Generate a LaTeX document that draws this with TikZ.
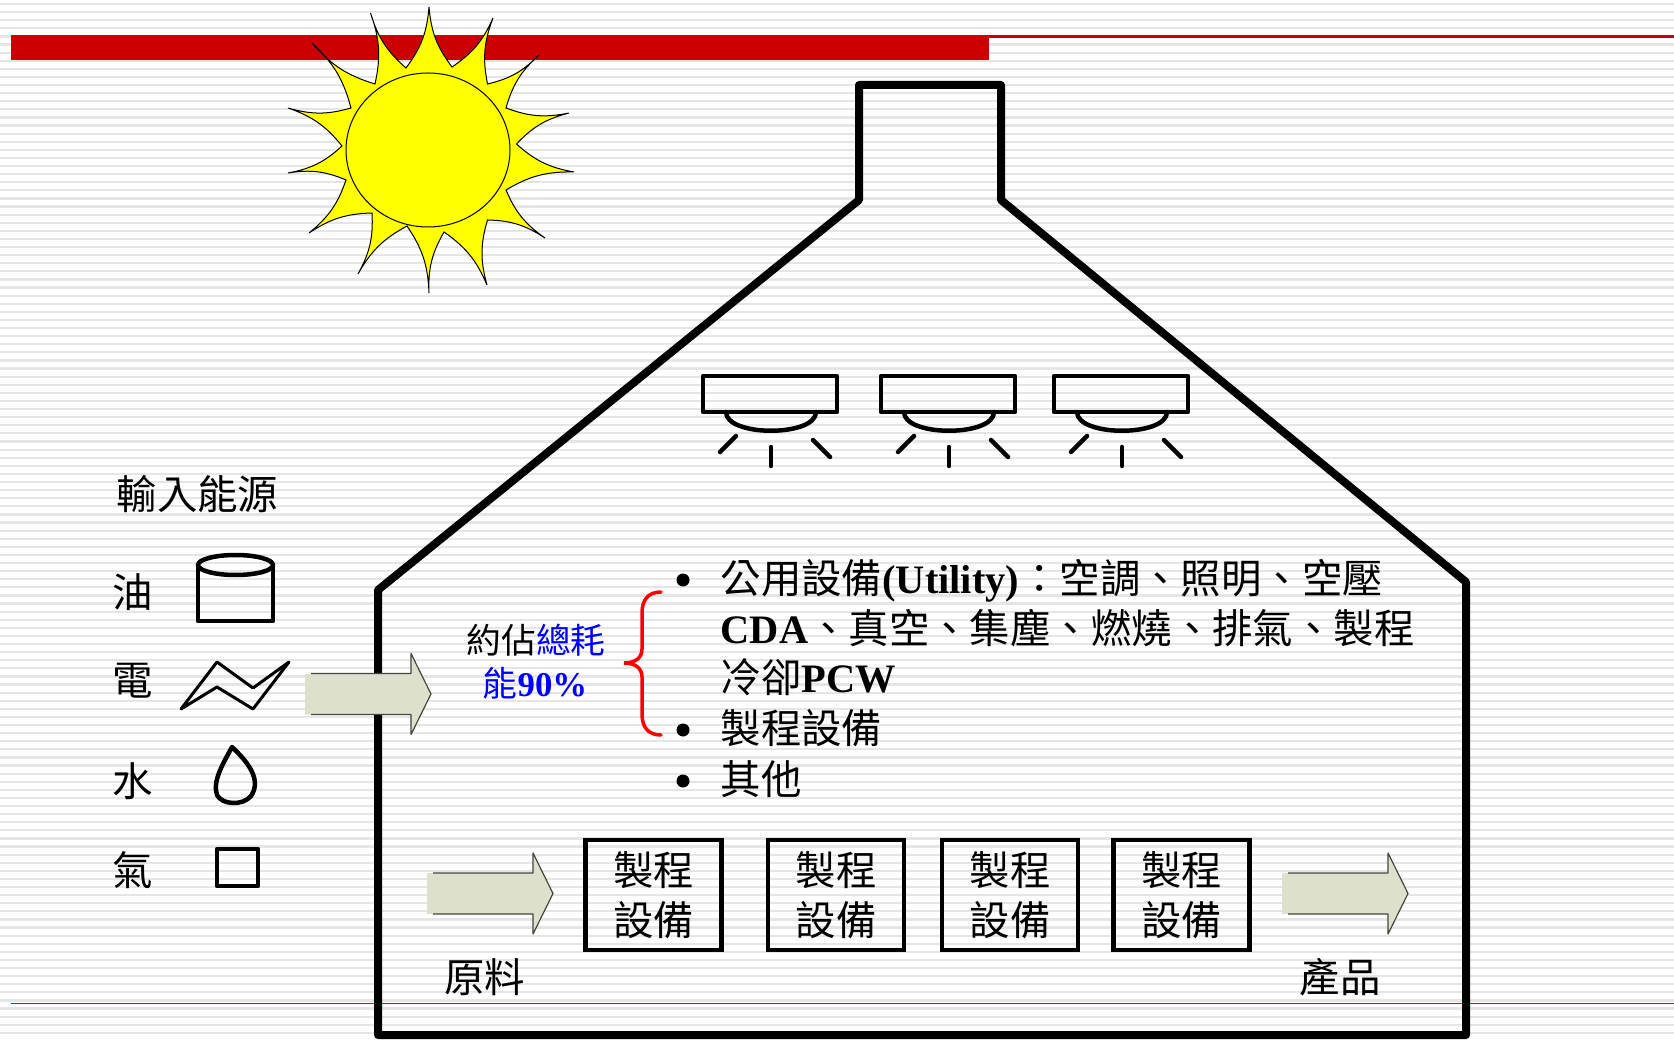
\documentclass[tikz,border=0pt]{standalone}
\usepackage{fontspec}
\setmainfont{Noto Sans CJK TC}
\newfontfamily\latinbf{Liberation Serif}
\usetikzlibrary{positioning}

\definecolor{barred}{RGB}{204,0,0}
\definecolor{linered}{RGB}{222,0,0}
\definecolor{stripegray}{RGB}{229,229,229}
\definecolor{arrowfill}{RGB}{221,224,204}
\definecolor{arrowedge}{RGB}{70,70,60}
\definecolor{sunyellow}{RGB}{255,255,0}
\definecolor{noteblue}{RGB}{0,0,255}
\definecolor{bracered}{RGB}{255,0,0}

\begin{document}
\begin{tikzpicture}[
    x=0.1mm, y=-0.1mm,
    every node/.style={font=\fontsize{11.5}{14}\selectfont, inner sep=0pt},
    wall/.style={line width=0.8mm, line join=round},
    icon/.style={line width=0.45mm, line join=round},
    lampline/.style={line width=0.45mm, line cap=round, line join=round},
    sun/.style={fill=sunyellow, draw=black, line width=0.1mm},
    stepbox/.style={draw, line width=0.45mm, minimum width=13.6mm, minimum height=11mm,
        align=center, font=\fontsize{11.5}{14.2}\selectfont},
    listline/.style={anchor=west, text height=0.88em, text depth=0.12em},
    note/.style={font=\fontsize{9.9}{12}\selectfont},
    fatarrow/.pic={
        \fill[arrowfill] (0,-20.5) -- (106,-20.5) -- (106,-40.5) -- (126,0)
            -- (106,40.5) -- (106,20.5) -- (0,20.5) -- cycle;
        \draw[arrowedge, line width=0.12mm, line join=round] (6,-20.5) -- (106,-20.5)
            -- (106,-40.5) -- (126,0) -- (106,40.5) -- (106,20.5) -- (6,20.5);
    },
    lamp/.pic={
        \draw[lampline] (-67,0) rectangle (67,36);
        \draw[lampline] (-44,36) .. controls (-44,61) and (46,61) .. (46,36);
        \draw[lampline] (-34,60) -- (-50,76);
        \draw[lampline] (1,71) -- (1,90);
        \draw[lampline] (43,64) -- (60,81);
    },
]
\useasboundingbox (0,0) rectangle (1674,1039);
\clip (0,0) rectangle (1674,1039);

% Striped page
\fill[white] (0,0) rectangle (1674,1039);
\foreach \k in {0,...,128}
    \fill[stripegray] (0,{3+8.1*\k}) rectangle (1674,{5.2+8.1*\k});

% Title bar and bottom rule
\fill[barred] (11,35) rectangle (989,60);
\fill[barred] (989,35) rectangle (1674,37.7);
\fill[linered] (11,1002.5) rectangle (1674,1004);

% Sun
\filldraw[sun] (429,7)
    \foreach \x/\y in {452/67, 493/18, 487.5/84, 539/55, 506/108, 569/113,
        516.5/144, 574/172, 506/190, 545/238, 487.5/220, 487/285, 444/232,
        429/293, 407/226, 358/274, 372/213, 309/233, 346/180, 288/173,
        342/146, 288/108, 351/108, 312/43, 375/84, 370.5/13, 406/68}
    { to[bend right=16] (\x,\y) } to[bend right=16] (429,7) -- cycle;
\draw[sun] (428,150) ellipse [x radius=82, y radius=77];

% Factory outline with chimney
\draw[wall] (378,1035) -- (378,590) -- (859,200) -- (859,85) -- (1001,85)
    -- (1001,200) -- (1466,582) -- (1466,1035) -- cycle;

% Ceiling lamps
\pic at (770,376) {lamp};
\pic at (948,376) {lamp};
\pic at (1121,376) {lamp};

% Energy inputs
\node (inputs) at (197.5,494) {輸入能源};
\node (oil)    at (133,592) {油};
\node (power)  at (133,681) {電};
\node (water)  at (133,781) {水};
\node (gas)    at (133,870) {氣};

\draw[icon] (198,565) -- (198,621) -- (273,621) -- (273,565);
\draw[icon] (235.5,565) ellipse [x radius=37.5, y radius=10];
\draw[icon, line width=0.3mm] (181,709) -- (217,662) -- (253,688) -- (289,662)
    -- (253,709) -- (217,687) -- cycle;
\draw[icon] (232,747) .. controls (248,762) and (262,780) .. (251,796)
    .. controls (243,806) and (222,805) .. (217,795)
    .. controls (212,781) and (224,762) .. (232,747) -- cycle;
\draw[icon] (217,849) rectangle (258,886);

% Energy flowing in
\pic at (305,694) {fatarrow};

% Share of consumption
\node[note] (share1) at (536,640) {約佔\textcolor{noteblue}{總耗}};
\node[note, text=noteblue] (share2) at (535,683) {能{\latinbf\bfseries 90\%}};
\draw[bracered, line width=0.35mm, line cap=round]
    (661,592) .. controls (648,592) and (642,600) .. (642,613) -- (642,649)
    .. controls (642,658) and (635,663) .. (624,663)
    .. controls (635,663) and (642,668) .. (642,677) -- (642,714)
    .. controls (642,727) and (648,735) .. (661,735);

% Consumers inside the plant
\foreach \y in {580,730,781}
    \fill (683,\y) circle (6.5);
\node[listline] (util1) at (720,580)
    {公用設備{\latinbf\bfseries (Utility)}：空調、照明、空壓};
\node[listline] (util2) at (720,630)
    {{\latinbf\bfseries CDA}、真空、集塵、燃燒、排氣、製程};
\node[listline] (util3) at (720,679) {冷卻{\latinbf\bfseries PCW}};
\node[listline] (proc)  at (720,730) {製程設備};
\node[listline] (other) at (720,781) {其他};

% Process line
\pic at (427,893.5) {fatarrow};
\foreach \n/\x in {1/653.5, 2/836, 3/1010, 4/1181.5}
    \node[stepbox] (box\n) at (\x,895) {製程\\設備};
\pic at (1282,893.5) {fatarrow};
\node (raw)     at (484.5,977) {原料};
\node (product) at (1340,977) {產品};

\end{tikzpicture}
\end{document}
